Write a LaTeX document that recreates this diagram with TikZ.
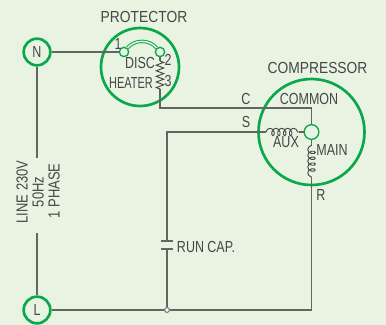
\documentclass[tikz,border=0pt]{standalone}
\usepackage{fontspec}
\setmainfont{Liberation Sans}
\usepackage{xcolor}
\definecolor{PanelFill}{RGB}{232,243,226}
\definecolor{RingGreen}{RGB}{10,168,74}
\definecolor{WireGrey}{RGB}{100,100,100}
\definecolor{TextGrey}{RGB}{70,70,70}
\usetikzlibrary{
  positioning,
  calc,
  decorations.pathmorphing
}
\tikzset{
  % Line terminal
  terminal/.style={
    circle,
    draw=RingGreen,
    line width=2pt,
    minimum size=20pt,
    inner sep=0pt
  },
  % Big housing ring
  housing/.style={
    circle,
    draw=RingGreen,
    line width=2pt,
    inner sep=0pt
  },
  % Small contact
  contact/.style={
    circle,
    draw=RingGreen,
    fill=PanelFill,
    line width=1pt,
    inner sep=0pt
  },
  % Wire
  wire/.style={
    draw=WireGrey,
    line width=1.1pt
  },
  % Coil winding
  winding/.style={
    draw=TextGrey,
    line width=0.7pt,
    decorate,
    decoration={coil, aspect=0.7, segment length=4.4pt, amplitude=2.8pt}
  },
  % Heater element
  heater/.style={
    draw=TextGrey,
    line width=0.7pt,
    decorate,
    decoration={zigzag, segment length=4.2pt, amplitude=2.8pt}
  },
  % Printed label
  lbl/.style={
    font=\fontsize{12}{12}\selectfont,
    text=TextGrey,
    inner sep=0pt,
    xscale=0.865
  },
  % Printed label, narrower
  nlbl/.style={
    font=\fontsize{12}{12}\selectfont,
    text=TextGrey,
    inner sep=0pt,
    xscale=0.78
  },
  % Printed label, turned
  vlbl/.style={
    font=\fontsize{12}{12}\selectfont,
    text=TextGrey,
    inner sep=0pt,
    rotate=90,
    xscale=0.81
  }
}
\begin{document}
\begin{tikzpicture}[x=0.75pt, y=-0.75pt]
  \fill[PanelFill] (0,0) rectangle (386,325);
  \useasboundingbox (0,0) rectangle (386,325);
  % Rings
  \node[housing, minimum size=58.5pt] (protector) at (140,67) {};
  \node[housing, minimum size=79.5pt] (compressor) at (311.5,132) {};
  \node[terminal, label={[nlbl]center:N}] (n) at (37,52) {};
  \node[terminal, label={[nlbl]center:L}] (l) at (37,310) {};
  % Contacts
  \node[contact, minimum size=7pt] (disca) at (124,52) {};
  \node[contact, minimum size=7pt] (discb) at (160,52) {};
  \node[contact, minimum size=11pt] (hub) at (311.5,132) {};
  \node[circle, draw=WireGrey, fill=white, line width=0.7pt, minimum size=3.6pt, inner sep=0pt] (join) at (167,310) {};
  % Corner and end points
  \coordinate (heatera) at (160,61);
  \coordinate (heaterb) at (160,89);
  \coordinate (ca) at (160,108);
  \coordinate (cb) at (311.5,108);
  \coordinate (sa) at (167,132);
  \coordinate (auxa) at (266,132);
  \coordinate (auxb) at (299,132);
  \coordinate (maina) at (311.5,145);
  \coordinate (mainb) at (311.5,177);
  \coordinate (ra) at (311.5,310);
  \coordinate (capa) at (167,241);
  \coordinate (capb) at (167,249);
  \coordinate (linea) at (37,158);
  \coordinate (lineb) at (37,233);
  % Wires
  \draw[wire] (n) -- (disca);
  \draw[wire] (n) -- (linea);
  \draw[wire] (lineb) -- (l);
  \draw[wire] (l) -- (join) -- (ra) -- (mainb);
  \draw[wire] (heaterb) -- (ca) -- (cb) -- (hub);
  \draw[wire] (auxb) -- (hub);
  \draw[wire] (auxa) -- (sa) -- (capa);
  \draw[wire] (capb) -- (join);
  \draw[wire] (hub) -- (maina);
  \draw[wire] (discb) -- (heatera);
  % Capacitor plates
  \draw[wire] ($(capa)+(-6,0)$) -- ($(capa)+(6,0)$);
  \draw[wire] ($(capb)+(-6,0)$) -- ($(capb)+(6,0)$);
  % Disc bridge
  \draw[draw=RingGreen, line width=2.6pt] (disca) to[bend left=50] (discb);
  \draw[draw=PanelFill, line width=1.1pt] (disca) to[bend left=50] (discb);
  % Windings
  \draw[heater] (heatera) -- (heaterb);
  \draw[winding] (auxa) -- (auxb);
  \draw[winding] (mainb) -- (maina);
  % Labels
  \node[lbl] (protectorlbl) at (144,17) {PROTECTOR};
  \node[lbl] (compressorlbl) at (317.5,68) {COMPRESSOR};
  \node[nlbl] (common) at (309,99) {COMMON};
  \node[nlbl] (aux) at (286,142) {AUX};
  \node[nlbl] (main) at (332,150) {MAIN};
  \node[nlbl] (rlbl) at (321,195) {R};
  \node[nlbl] (clbl) at (246,99) {C};
  \node[nlbl] (slbl) at (246,122) {S};
  \node[nlbl] (disc) at (140,63) {DISC};
  \node[nlbl, xscale=0.88] (heatlbl) at (131,83) {HEATER};
  \node[nlbl] (one) at (118,44) {1};
  \node[nlbl] (two) at (168,60) {2};
  \node[nlbl] (three) at (168,81) {3};
  \node[nlbl] (runcap) at (206,247) {RUN CAP.};
  \node[vlbl] (volt) at (22,192) {LINE 230V};
  \node[vlbl] (hz) at (38,192) {50Hz};
  \node[vlbl] (phase) at (54,191) {1 PHASE};
\end{tikzpicture}
\end{document}
